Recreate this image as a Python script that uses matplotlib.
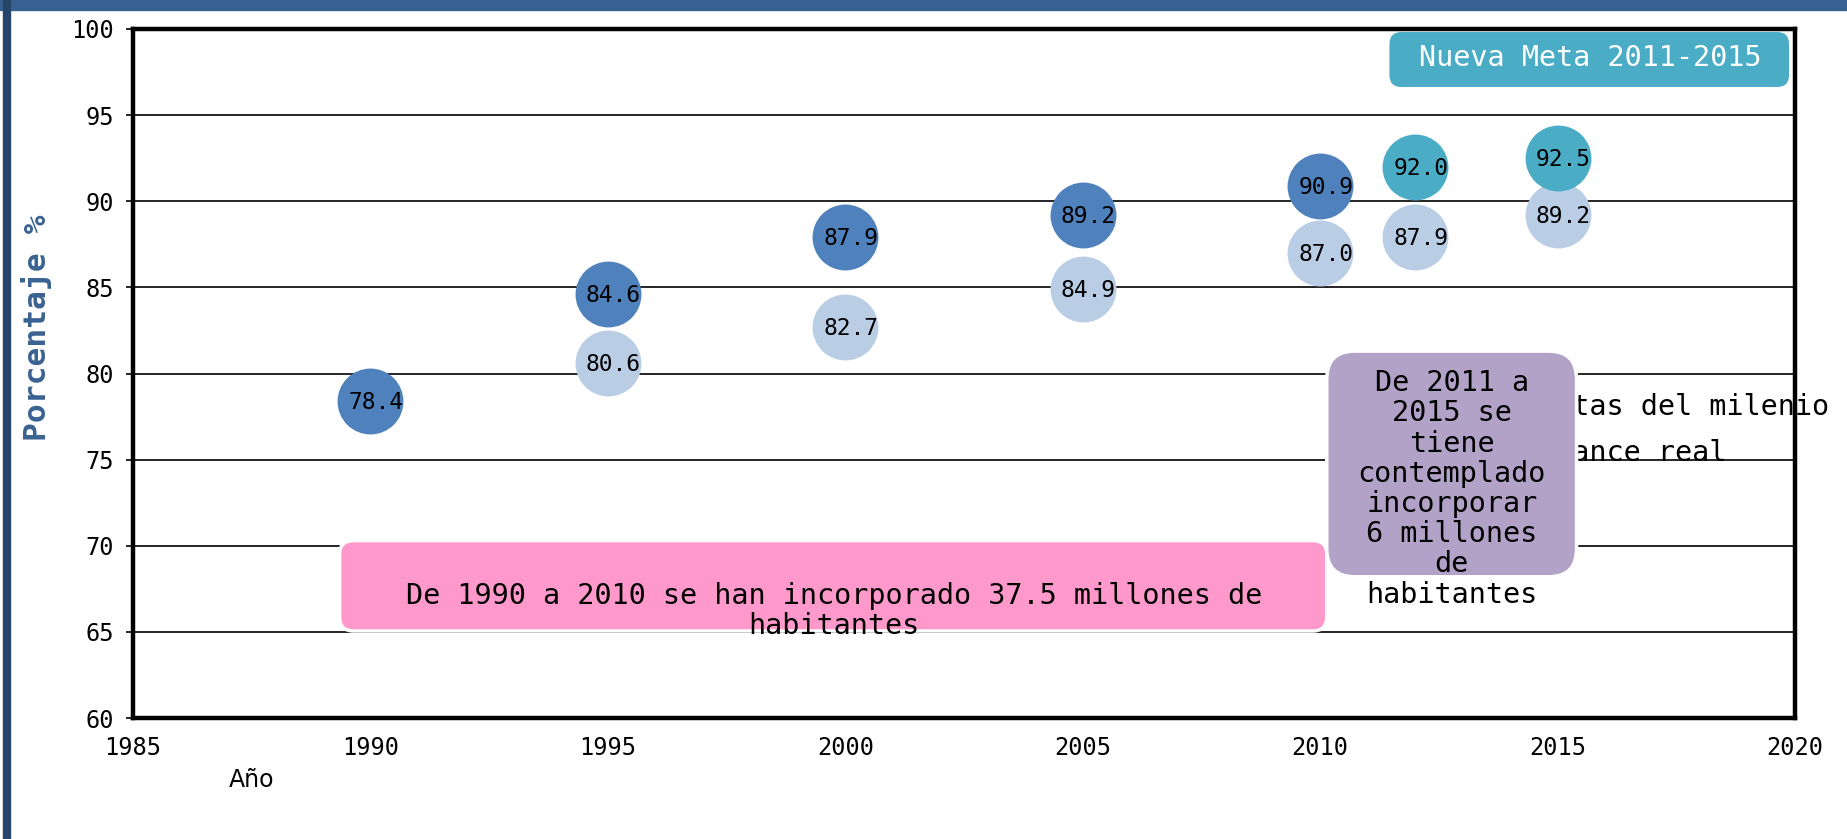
import numpy as np
import matplotlib
matplotlib.use("Agg")
import matplotlib.pyplot as plt
from matplotlib.patches import FancyBboxPatch, Rectangle
from matplotlib.lines import Line2D

plt.rcParams['font.family'] = ['DejaVu Sans Mono', 'DejaVu Sans']

# data
years_real = [1990, 1995, 2000, 2005, 2010]
avance_real = [78.4, 84.6, 87.9, 89.2, 90.9]
years_meta = [1995, 2000, 2005, 2010, 2012, 2015]
metas_milenio = [80.6, 82.7, 84.9, 87.0, 87.9, 89.2]
years_nueva = [2012, 2015]
nueva_meta = [92.0, 92.5]

x_ticks = [1985, 1990, 1995, 2000, 2005, 2010, 2015, 2020]
y_ticks = [60, 65, 70, 75, 80, 85, 90, 95, 100]

c_real = '#4f81bd'
c_meta = '#b9cde5'
c_nueva = '#4bacc6'
c_pink = '#ff99cc'
c_purple = '#b2a2c7'

W, H = 1847, 839
fig = plt.figure(figsize=(W / 100, H / 100), dpi=100)
ax = fig.add_axes([133 / W, 1 - 718 / H, (1795 - 133) / W, (718 - 29) / H])

# page decoration
fig.patches.append(Rectangle((0, 1 - 10 / H), 1, 10 / H, transform=fig.transFigure,
                             color='#386192', zorder=0))
fig.patches.append(Rectangle((3 / W, 0), 7 / W, 1, transform=fig.transFigure,
                             color='#27446b', zorder=0))

ax.set_xlim(1985, 2020)
ax.set_ylim(60, 100)
ax.set_xticks(x_ticks)
ax.set_yticks(y_ticks)
ax.yaxis.grid(True, color='black', lw=1.2, zorder=1)
ax.set_axisbelow(True)
for s in ax.spines.values():
    s.set_linewidth(3.2)
ax.tick_params(axis='x', length=0, pad=13, labelsize=17)
ax.tick_params(axis='y', length=5, width=1.2, pad=9, labelsize=17)

# bubbles
bsize = 2250
ax.scatter(years_meta, metas_milenio, s=bsize, color=c_meta, zorder=3, linewidths=0)
ax.scatter(years_real, avance_real, s=bsize, color=c_real, zorder=3, linewidths=0)
ax.scatter(years_nueva, nueva_meta, s=bsize, color=c_nueva, zorder=3, linewidths=0)
for xs, ys in [(years_meta, metas_milenio), (years_real, avance_real), (years_nueva, nueva_meta)]:
    for x, y in zip(xs, ys):
        ax.annotate(f'{y:.1f}', (x, y), xytext=(4, -1), textcoords='offset points',
                    ha='center', va='center', fontsize=16.5, zorder=4)

# legend (mostly hidden behind the purple box, as in the original)
handles = [Line2D([], [], ls='', marker='o', color=c_meta, ms=8),
           Line2D([], [], ls='', marker='o', color=c_real, ms=8)]
leg = ax.legend(handles, ['Metas del milenio', 'Avance real'], loc='upper left',
                bbox_to_anchor=(0.8195, 0.472), frameon=False, fontsize=20.5,
                handlelength=1, handletextpad=0.5, borderpad=0, borderaxespad=0,
                labelspacing=0.65)
leg.set_zorder(3)

# rounded note boxes
px_x = (1795 - 133) / 35.0
px_y = (718 - 29) / 40.0


def note_box(x0, x1, y0, y1, color, r_px, z):
    r = r_px / px_x
    b = FancyBboxPatch((x0, y0), x1 - x0, y1 - y0,
                       boxstyle=f'round,pad=0,rounding_size={r}',
                       mutation_aspect=px_x / px_y, fc=color, ec='white', lw=2.5,
                       zorder=z, clip_on=False)
    ax.add_patch(b)


note_box(1989.35, 2010.14, 65.05, 70.3, c_pink, 14, 5)
ax.text(1999.76, 66.2, 'De 1990 a 2010 se han incorporado 37.5 millones de\nhabitantes',
        ha='center', va='center', fontsize=20.5, linespacing=1.1, zorder=6)

note_box(2010.14, 2015.4, 68.2, 81.3, c_purple, 28, 7)
ax.text(2012.77, 73.3, 'De 2011 a\n2015 se\ntiene\ncontemplado\nincorporar\n6 millones\nde\nhabitantes',
        ha='center', va='center', fontsize=20.5, linespacing=1.1, zorder=8)

tb = FancyBboxPatch((0.756, 0.9158), 0.9964 - 0.756, 0.9956 - 0.9158,
                    boxstyle='round,pad=0,rounding_size=0.007',
                    mutation_aspect=(1662 / 689), transform=ax.transAxes,
                    fc=c_nueva, ec='none', zorder=5)
ax.add_patch(tb)
ax.text(0.8767, 0.958, 'Nueva Meta 2011-2015', transform=ax.transAxes, ha='center',
        va='center', fontsize=20.5, color='white', zorder=6)

# axis titles
fig.text(37 / W, 1 - 328 / H, 'Porcentaje %', rotation=90, ha='center', va='center',
         fontsize=22.5, fontweight='bold', color='#3a6291')
fig.text(252 / W, 1 - 780 / H, 'Año', ha='center', va='center', fontsize=17,
         family='DejaVu Sans')

fig.savefig('out.png', dpi=100)
